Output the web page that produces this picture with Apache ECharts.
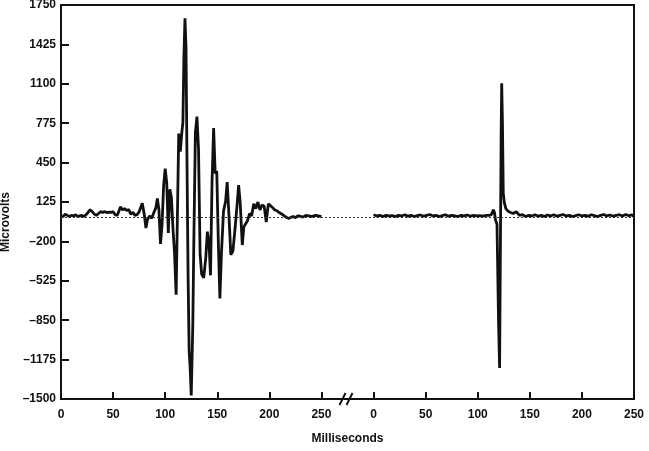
<!DOCTYPE html>
<html>
<head>
<meta charset="utf-8">
<script src="https://cdn.jsdelivr.net/npm/echarts@6/dist/echarts.min.js"></script>
<style>html,body{margin:0;padding:0;background:#fff}#c{width:649px;height:451px}</style>
</head>
<body>
<div id="c"></div>
<script>
// Left recording (ms, microvolts)
const leftMs = [0,2,4,6,8,10,12,14,16,18,20,22,24,26,28,30,32,34,36,38,40,42,44,46,48,50,52,54,56,57,59,61,63,65,67,69,71,73,75,76,78,80,81.5,83,85,87,89,91,92.5,94,95.5,97,98.5,100,101.5,103,104.5,106,107.5,109,110.5,112,113,114.5,116,117,118,119,120,121,122,123,124,125,126.5,127.5,129,130.5,132,133.5,135,137,139,140.5,142,143.5,145,146.5,148,149.5,151,152.5,154,156,158,159.5,161,163,165,167,169,170.5,172,174,175.5,177,179,181,183,185,187,189,191,193,195,197,199,201,203,205,207,209,211,213,215,217,219,221,223,225,227,229,232,235,238,241,244,247,250];
const leftUv = [10,5,25,15,5,15,10,20,5,10,15,5,20,40,62,45,25,15,30,45,40,45,38,42,40,45,20,15,60,85,60,70,55,62,25,40,15,20,45,30,115,20,-90,-20,10,-10,35,75,155,60,-220,-60,260,400,280,-130,230,160,-100,-300,-640,150,690,540,700,780,1330,1640,1390,400,-500,-1100,-1250,-1470,-900,-200,700,830,560,-300,-470,-500,-330,-120,-200,-480,300,735,360,380,-200,-670,-300,50,130,290,50,-310,-280,-100,100,265,120,-230,-80,-80,-30,30,10,110,70,125,60,100,90,-40,110,95,80,60,55,40,30,20,5,-5,-10,0,5,-5,10,10,0,15,10,5,15,10,5];
// Right recording (ms, microvolts)
const rightMs = [0,3,6,9,12,15,18,21,24,27,30,33,36,39,42,45,48,51,54,57,60,63,66,69,72,75,78,81,84,87,90,93,96,99,102,105,108,111,113,115,116,117,118.5,120,121,121.8,122.5,123,123.7,124.5,125.5,127,129,131,134,137,140,143,146,149,152,155,158,161,164,167,170,173,176,179,182,185,188,191,194,197,200,203,206,209,212,215,218,221,224,227,230,233,236,239,242,245,248,250];
const rightUv = [20,10,15,5,15,10,12,5,15,10,20,8,15,5,12,18,8,15,22,10,15,5,12,20,8,15,10,5,15,10,18,8,15,10,12,8,15,15,20,60,40,-20,-60,-870,-1245,-200,700,1105,800,200,120,70,50,40,30,45,15,20,5,15,10,20,8,15,5,18,10,20,8,15,22,10,15,5,12,20,10,15,8,20,12,5,15,22,10,18,8,15,20,10,22,12,18,5];
// Axis ticks
const yTicks = [-1500,-1175,-850,-525,-200,125,450,775,1100,1425,1750];
const xTickMs = [0,50,100,150,200,250];

const RIGHT_OFFSET = 300;
const chart = echarts.init(document.getElementById('c'), null, {renderer:'canvas'});
const leftData = leftMs.map((m,i)=>[m,leftUv[i]]);
const rightData = rightMs.map((m,i)=>[m+RIGHT_OFFSET,rightUv[i]]);
const fontFam = '"Liberation Sans", Arial, sans-serif';
const dash = v => String(v).replace('-', '\u2013');

chart.setOption({
  animation:false,
  backgroundColor:'#fff',
  grid:{left:61,right:15,top:5,bottom:52,show:true,borderColor:'#111',borderWidth:2,backgroundColor:'transparent',
    containLabel:false,outerBoundsMode:'none'},
  xAxis:{
    type:'value',min:0,max:RIGHT_OFFSET+xTickMs[xTickMs.length-1],interval:50,
    name:'Milliseconds',nameLocation:'middle',nameGap:34,
    nameTextStyle:{fontFamily:fontFam,fontWeight:'bold',fontSize:12,color:'#111'},
    axisLine:{onZero:false,lineStyle:{color:'#111',width:2}},
    axisTick:{inside:true,length:7,lineStyle:{color:'#111',width:2}},
    axisLabel:{fontFamily:fontFam,fontWeight:'bold',fontSize:12,color:'#111',margin:10,
      showMaxLabel:true,showMinLabel:true,
      formatter:v=>String(v>=RIGHT_OFFSET?v-RIGHT_OFFSET:v)},
    splitLine:{show:false}
  },
  yAxis:{
    type:'value',min:yTicks[0],max:yTicks[yTicks.length-1],interval:325,
    name:'Microvolts',nameLocation:'middle',nameGap:43,
    nameTextStyle:{fontFamily:fontFam,fontWeight:'bold',fontSize:12,color:'#111',padding:[0,40,0,0]},
    axisLine:{show:true,onZero:false,lineStyle:{color:'#111',width:2}},
    axisTick:{show:true,inside:true,length:8,lineStyle:{color:'#111',width:2}},
    axisLabel:{fontFamily:fontFam,fontWeight:'bold',fontSize:12,color:'#111',margin:5,formatter:dash},
    splitLine:{show:false}
  },
  series:[
    {type:'line',data:leftData,showSymbol:false,symbol:'none',
      lineStyle:{color:'#111',width:2.8},z:3,
      markLine:{silent:true,symbol:'none',label:{show:false},
        lineStyle:{color:'#333',width:1,type:[2,2]},
        data:[{yAxis:0}]}},
    {type:'line',data:rightData,showSymbol:false,symbol:'none',
      lineStyle:{color:'#111',width:2.8},z:3}
  ]
});

// axis-break marks "//" placed at the gap between the two segments
const c = chart.convertToPixel({gridIndex:0},[ (xTickMs[xTickMs.length-1]+RIGHT_OFFSET)/2, yTicks[0] ]);
chart.setOption({graphic:[
  {type:'line',shape:{x1:c[0]-8,y1:c[1]+6,x2:c[0]-2,y2:c[1]-6},style:{stroke:'#111',lineWidth:2},z:100},
  {type:'line',shape:{x1:c[0]-1,y1:c[1]+6,x2:c[0]+5,y2:c[1]-6},style:{stroke:'#111',lineWidth:2},z:100}
]});
</script>
</body>
</html>
